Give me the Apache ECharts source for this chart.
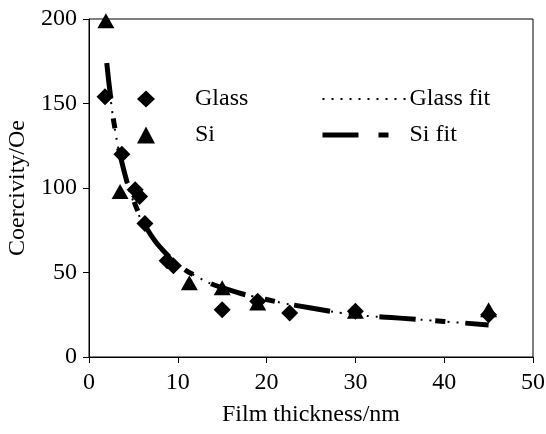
<!DOCTYPE html>
<html>
<head>
<meta charset="utf-8">
<script src="https://cdn.jsdelivr.net/npm/echarts@6/dist/echarts.min.js"></script>
<style>
  html, body { margin: 0; padding: 0; background: #fff; }
  #main { width: 546px; height: 434px; }
</style>
</head>
<body>
<div id="main"></div>
<script>
// measured points
let glassX = [1.8, 3.7, 5.2, 5.7, 6.3, 8.8, 9.5, 15, 19, 22.6, 30, 45];
let glassY = [154, 120, 99, 95, 79, 57, 54, 28, 33, 26, 27, 25];
let siX = [1.9, 3.5, 11.3, 15, 19, 30, 45];
let siY = [199, 98, 44, 41, 32, 27, 28];

// fitted curves
let fitX = [2, 2.5, 3, 4, 5, 6, 7, 8, 10, 12, 15, 20, 25, 30, 35, 40, 45];
let glassFitY = [172, 150, 132, 108, 92, 80, 72, 65, 55, 48, 41, 34, 29, 25, 23, 21, 19];
let siFitY = [174, 151, 133, 109, 93, 81, 72, 65, 55, 48, 41, 34, 29, 25, 23, 21, 19];

let yTicks = [0, 50, 100, 150, 200];

function pairs(xs, ys){
    let out = [];
    for (let i = 0; i < xs.length; i++) out.push([xs[i], ys[i]]);
    return out;
}

let font = 'Liberation Serif';
let option = {
    animation: false,
    backgroundColor: '#fff',
    grid: {left: 89, right: 13, top: 19, bottom: 77, show: true, borderColor: '#000', borderWidth: 1,
           containLabel: false, outerBoundsMode: 'none'},
    legend: [{
        data: ['Glass', 'Si'],
        orient: 'vertical',
        left: 132, top: 82,
        itemWidth: 18, itemHeight: 17, itemGap: 12,
        textStyle: {fontFamily: font, fontSize: 24, color: '#000', padding: [0, 0, 0, 35]}
    }, {
        data: [
            {name: 'Glass fit', itemStyle: {opacity: 0}, lineStyle: {width: 2, type: [2, 7]}},
            {name: 'Si fit', itemStyle: {opacity: 0}, lineStyle: {width: 5, type: [36, 20, 10, 20]}}
        ],
        orient: 'vertical',
        left: 315, top: 82,
        itemWidth: 86, itemHeight: 17, itemGap: 12,
        textStyle: {fontFamily: font, fontSize: 24, color: '#000', padding: [0, 0, 0, -4]}
    }],
    xAxis: {
        type: 'value', min: 0, max: 50, interval: 10,
        name: 'Film thickness/nm', nameLocation: 'middle', nameGap: 46,
        nameTextStyle: {fontFamily: font, fontSize: 24, color: '#000'},
        axisLine: {lineStyle: {color: '#000', width: 1}},
        axisTick: {show: true, length: 6, lineStyle: {color: '#000'}},
        axisLabel: {fontFamily: font, fontSize: 24, color: '#000', margin: 14},
        splitLine: {show: false}
    },
    yAxis: {
        type: 'value', min: yTicks[0], max: yTicks[yTicks.length - 1], interval: 50,
        name: 'Coercivity/Oe', nameLocation: 'middle', nameGap: 55,
        nameTextStyle: {fontFamily: font, fontSize: 24, color: '#000'},
        axisLine: {show: true, lineStyle: {color: '#000', width: 1}},
        axisTick: {show: true, length: 6, lineStyle: {color: '#000'}},
        axisLabel: {fontFamily: font, fontSize: 24, color: '#000', margin: 12},
        splitLine: {show: false}
    },
    series: [{
        name: 'Glass fit',
        type: 'line',
        data: pairs(fitX, glassFitY),
        smooth: true, showSymbol: false, symbol: 'none',
        lineStyle: {color: '#000', width: 2, type: [2, 7]},
        itemStyle: {color: '#000'},
        z: 3
    }, {
        name: 'Si fit',
        type: 'line',
        data: pairs(fitX, siFitY),
        smooth: true, showSymbol: false, symbol: 'none',
        lineStyle: {color: '#000', width: 5, type: [36, 20, 10, 20]},
        itemStyle: {color: '#000'},
        z: 3
    }, {
        name: 'Glass',
        type: 'scatter',
        data: pairs(glassX, glassY),
        symbol: 'diamond', symbolSize: [17, 17],
        itemStyle: {color: '#000', opacity: 1},
        z: 4
    }, {
        name: 'Si',
        type: 'scatter',
        data: pairs(siX, siY),
        symbol: 'triangle', symbolSize: [17, 15],
        itemStyle: {color: '#000', opacity: 1},
        z: 4
    }]
};

let chart = echarts.init(document.getElementById('main'));
chart.setOption(option);
</script>
</body>
</html>
